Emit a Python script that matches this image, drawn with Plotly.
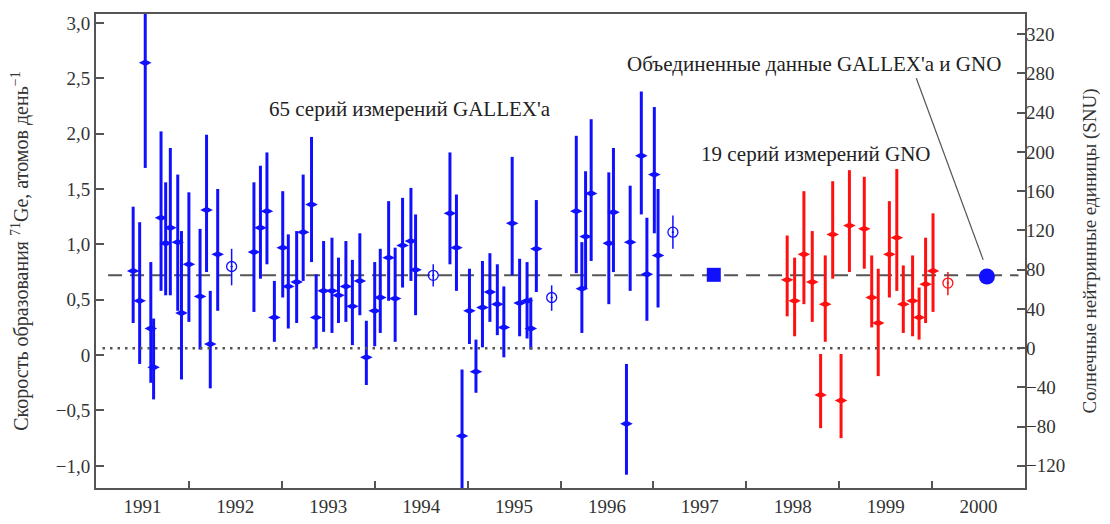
import plotly.graph_objects as go

# ---------------- data (rate of 71Ge production, atoms/day) ----------------
gallex_t = [1991.40, 1991.47, 1991.53, 1991.59, 1991.62, 1991.70, 1991.75, 1991.80, 1991.88, 1991.92,
            1992.00, 1992.12, 1992.19, 1992.23, 1992.31, 1992.70, 1992.77, 1992.84, 1992.92, 1993.01,
            1993.07, 1993.16, 1993.23, 1993.32, 1993.37, 1993.45, 1993.54, 1993.61, 1993.69, 1993.76,
            1993.84, 1993.91, 1994.00, 1994.06, 1994.15, 1994.22, 1994.30, 1994.39, 1994.44, 1994.81,
            1994.88, 1994.94, 1995.02, 1995.09, 1995.16, 1995.24, 1995.32, 1995.39, 1995.48, 1995.56,
            1995.64, 1995.68, 1995.74, 1996.17, 1996.23, 1996.27, 1996.33, 1996.52, 1996.57, 1996.71,
            1996.75, 1996.87, 1996.93, 1997.01, 1997.05]
gallex_rate = [0.76, 0.49, 2.64, 0.24, -0.11, 1.24, 1.01, 1.15, 1.02, 0.38,
               0.82, 0.53, 1.31, 0.10, 0.91, 0.93, 1.15, 1.30, 0.34, 0.97,
               0.62, 0.66, 1.11, 1.36, 0.34, 0.58, 0.58, 0.54, 0.62, 0.44,
               0.67, -0.02, 0.40, 0.52, 0.88, 0.51, 0.99, 1.03, 0.77, 1.28,
               0.97, -0.73, 0.40, -0.15, 0.43, 0.57, 0.46, 0.25, 1.19, 0.47,
               0.49, 0.24, 0.96, 1.30, 0.60, 1.07, 1.46, 1.01, 1.29, -0.62,
               1.02, 1.80, 0.73, 1.63, 0.90]
gallex_lo = [0.29, -0.08, 1.69, -0.25, -0.40, 0.58, 0.54, 0.54, 0.40, -0.22,
             0.30, 0.05, 0.75, -0.30, 0.40, 0.39, 0.69, 0.82, 0.12, 0.52,
             0.24, 0.29, 0.67, 0.84, 0.06, 0.21, 0.20, 0.29, 0.30, 0.09,
             0.36, -0.27, 0.08, 0.20, 0.49, 0.12, 0.61, 0.67, 0.36, 0.82,
             0.58, -1.35, 0.10, -0.34, 0.07, 0.30, 0.18, -0.02, 0.72, 0.17,
             0.15, 0.05, 0.57, 0.74, 0.20, 0.60, 0.85, 0.46, 0.75, -1.08,
             0.58, 1.27, 0.31, 1.10, 0.43]
gallex_hi = [1.34, 1.20, 3.25, 0.84, 0.33, 2.02, 1.56, 1.87, 1.63, 1.12,
             1.47, 1.14, 1.99, 0.58, 1.50, 1.56, 1.71, 1.83, 0.67, 1.48,
             1.09, 1.12, 1.63, 1.97, 0.73, 1.03, 1.06, 0.88, 1.03, 0.86,
             1.10, 0.31, 0.84, 0.96, 1.39, 0.97, 1.42, 1.51, 1.27, 1.83,
             1.45, -0.13, 0.78, 0.14, 0.85, 0.92, 0.82, 0.62, 1.79, 0.87,
             0.84, 0.52, 1.40, 1.98, 1.02, 1.66, 2.13, 1.65, 1.87, -0.08,
             1.53, 2.38, 1.24, 2.24, 1.50]

gallex_avg_t = [1992.46, 1994.63, 1995.905, 1997.21]
gallex_avg_rate = [0.80, 0.72, 0.52, 1.11]
gallex_avg_lo = [0.63, 0.62, 0.40, 0.96]
gallex_avg_hi = [0.96, 0.82, 0.63, 1.26]

gno_t = [1998.44, 1998.52, 1998.62, 1998.71, 1998.80, 1998.85, 1998.93, 1999.02, 1999.11, 1999.27,
         1999.35, 1999.42, 1999.54, 1999.62, 1999.69, 1999.79, 1999.86, 1999.93, 2000.01]
gno_rate = [0.68, 0.49, 0.91, 0.66, -0.36, 0.46, 1.09, -0.41, 1.17, 1.14,
            0.52, 0.29, 0.91, 1.06, 0.46, 0.49, 0.34, 0.64, 0.76]
gno_lo = [0.35, 0.17, 0.46, 0.30, -0.66, 0.12, 0.69, -0.75, 0.75, 0.78,
          0.25, -0.19, 0.52, 0.58, 0.20, 0.17, 0.14, 0.29, 0.39]
gno_hi = [1.08, 0.88, 1.48, 1.12, 0.01, 0.90, 1.57, 0.01, 1.67, 1.61,
          0.90, 0.78, 1.39, 1.68, 0.81, 0.90, 0.61, 1.06, 1.28]

gno_avg_t = [2000.17]
gno_avg_rate = [0.65]
gno_avg_lo = [0.54]
gno_avg_hi = [0.75]

gallex_total_t = [1997.65]
gallex_total_rate = [0.725]
combined_t = [2000.59]
combined_rate = [0.71]

combined_level = 0.72      # dashed line
zero_snu_rate = 0.063      # rate corresponding to 0 SNU (dotted line)
snu_per_rate = 112.9       # SNU per atom/day

year_labels = [1991, 1992, 1993, 1994, 1995, 1996, 1997, 1998, 1999, 2000]
left_ticks = [-1.0, -0.5, 0.0, 0.5, 1.0, 1.5, 2.0, 2.5, 3.0]
left_ticktext = ["−1,0", "−0,5", "0", "0,5", "1,0", "1,5", "2,0", "2,5", "3,0"]
right_ticks = [-120, -80, -40, 0, 40, 80, 120, 160, 200, 240, 280, 320]
right_ticktext = ["−120", "−80", "−40", "0", "40", "80", "120", "160", "200", "240", "280", "320"]

# ---------------- figure ----------------
BLUE = "#1010ff"
RED = "#ff1010"
GREY = "#555555"
FONT = "Liberation Serif"
yrange = [-1.2, 3.08]
xrange = [1991.0, 2001.0]


def err(rate, lo, hi):
    return dict(type="data", symmetric=False,
                array=[h - r for r, h in zip(rate, hi)],
                arrayminus=[r - l for r, l in zip(rate, lo)])


fig = go.Figure()

# reference lines
fig.add_trace(go.Scatter(x=[1991.13, 2000.93], y=[combined_level, combined_level], mode="lines",
                         line=dict(color=GREY, width=2, dash="14px,8px"), hoverinfo="skip",
                         showlegend=False))
fig.add_trace(go.Scatter(x=[1991.07, 2000.95], y=[0, 0], mode="lines", yaxis="y2",
                         line=dict(color=GREY, width=2.5, dash="2.5px,5px"), hoverinfo="skip",
                         showlegend=False))

# GALLEX runs
e = err(gallex_rate, gallex_lo, gallex_hi)
e.update(color=BLUE, thickness=3, width=0)
fig.add_trace(go.Scatter(x=gallex_t, y=gallex_rate, mode="markers", error_y=e,
                         marker=dict(symbol="diamond-wide", size=9, color=BLUE), showlegend=False))
# GALLEX period averages
e = err(gallex_avg_rate, gallex_avg_lo, gallex_avg_hi)
e.update(color=BLUE, thickness=1.5, width=0)
fig.add_trace(go.Scatter(x=gallex_avg_t, y=gallex_avg_rate, mode="markers", error_y=e,
                         marker=dict(symbol="circle-open-dot", size=10, color=BLUE,
                                     line=dict(width=1.3, color=BLUE)), showlegend=False))
# GNO runs
e = err(gno_rate, gno_lo, gno_hi)
e.update(color=RED, thickness=3, width=0)
fig.add_trace(go.Scatter(x=gno_t, y=gno_rate, mode="markers", error_y=e,
                         marker=dict(symbol="diamond-wide", size=9, color=RED), showlegend=False))
e = err(gno_avg_rate, gno_avg_lo, gno_avg_hi)
e.update(color=RED, thickness=1.5, width=0)
fig.add_trace(go.Scatter(x=gno_avg_t, y=gno_avg_rate, mode="markers", error_y=e,
                         marker=dict(symbol="circle-open-dot", size=10, color=RED,
                                     line=dict(width=1.3, color=RED)), showlegend=False))
# totals
fig.add_trace(go.Scatter(x=gallex_total_t, y=gallex_total_rate, mode="markers",
                         marker=dict(symbol="square", size=14, color=BLUE), showlegend=False))
fig.add_trace(go.Scatter(x=combined_t, y=combined_rate, mode="markers",
                         marker=dict(symbol="circle", size=16, color=BLUE), showlegend=False))

# pointer line from label to the combined point
fig.add_shape(type="line", xref="x", yref="y", x0=1999.83, y0=2.50, x1=2000.55, y1=0.86,
              line=dict(color=GREY, width=1.2))

tfont = dict(family=FONT, size=21, color="#222222")
fig.add_annotation(x=1994.38, y=2.22, text="65 серий измерений GALLEX'а", showarrow=False, font=tfont)
fig.add_annotation(x=1998.73, y=2.63, text="Объединенные данные GALLEX'а и GNO", showarrow=False, font=tfont)
fig.add_annotation(x=1998.75, y=1.82, text="19 серий измерений GNO", showarrow=False, font=tfont)

axfont = dict(family=FONT, size=19, color="#333333")
# the page body adds an 8px offset, so the figure is 8px smaller than the window
fig.update_layout(
    width=1102, height=516,
    margin=dict(l=88, r=85, t=4, b=36),
    paper_bgcolor="white", plot_bgcolor="white",
    font=dict(family=FONT, size=19, color="#333333"),
    xaxis=dict(range=xrange, showgrid=False, zeroline=False,
               tickvals=[y + 0.5 for y in year_labels], ticktext=[str(y) for y in year_labels],
               ticks="", tickfont=axfont,
               minor=dict(tickvals=year_labels[1:], ticks="inside", ticklen=7, tickwidth=1.5,
                          tickcolor=GREY, showgrid=False),
               showline=True, linecolor=GREY, linewidth=2, mirror=True),
    yaxis=dict(range=yrange, showgrid=False, zeroline=False,
               tickvals=left_ticks, ticktext=left_ticktext, ticks="inside", ticklen=8,
               tickwidth=1.5, tickcolor=GREY, tickfont=axfont,
               showline=True, linecolor=GREY, linewidth=2, mirror=True,
               title=dict(text="Скорость образования <sup>71</sup>Ge, атомов день<sup>−1</sup>",
                          font=dict(family=FONT, size=20, color="#333333"), standoff=22)),
    yaxis2=dict(overlaying="y", side="right",
                range=[snu_per_rate * (yrange[0] - zero_snu_rate), snu_per_rate * (yrange[1] - zero_snu_rate)],
                showgrid=False, zeroline=False,
                tickvals=right_ticks, ticktext=right_ticktext, ticks="inside", ticklen=8,
                tickwidth=1.5, tickcolor=GREY, tickfont=axfont,
                title=dict(text="Солнечные нейтринные единицы (SNU)",
                           font=dict(family=FONT, size=19, color="#333333"), standoff=18)),
)

fig.write_html("out.html")
